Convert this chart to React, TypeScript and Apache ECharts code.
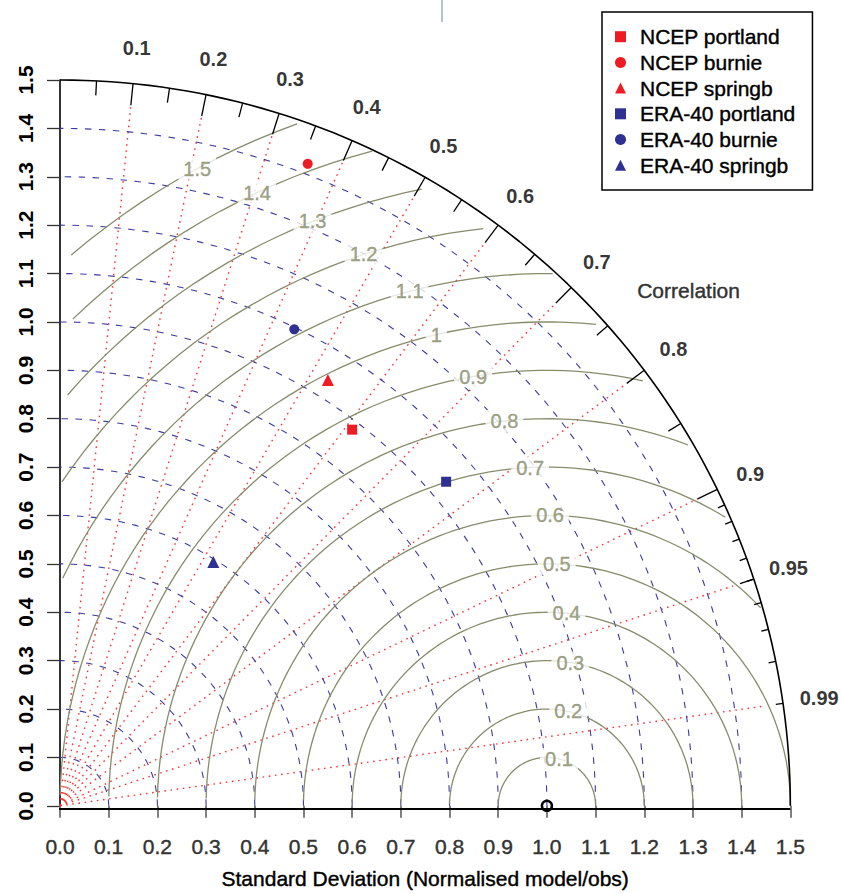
import React, { useEffect, useRef } from "react";
import * as echarts from "echarts";

// ---- Data ----
const MAXRAY = 1.5;
const SD_REF = 1.0;
const sdGridLevels = [0.1, 0.2, 0.3, 0.4, 0.5, 0.6, 0.7, 0.8, 0.9, 1.0, 1.1, 1.2, 1.3, 1.4];
const gammaLevels = [0.1, 0.2, 0.3, 0.4, 0.5, 0.6, 0.7, 0.8, 0.9, 1.0, 1.1, 1.2, 1.3, 1.4, 1.5];
const gammaLabels = ["0.1", "0.2", "0.3", "0.4", "0.5", "0.6", "0.7", "0.8", "0.9", "1", "1.1", "1.2", "1.3", "1.4", "1.5"];
const corLines = [0.1, 0.2, 0.3, 0.4, 0.5, 0.6, 0.7, 0.8, 0.9, 0.95, 0.99];
const corLabels = ["0.1", "0.2", "0.3", "0.4", "0.5", "0.6", "0.7", "0.8", "0.9", "0.95", "0.99"];
const bigTicks = [0.1, 0.2, 0.3, 0.4, 0.5, 0.6, 0.7, 0.8, 0.9];
const medTicks = [0.05, 0.15, 0.25, 0.35, 0.45, 0.55, 0.65, 0.75, 0.85, 0.95];
const smallTicks = [0.91, 0.92, 0.93, 0.94, 0.95, 0.96, 0.97, 0.98, 0.99];

const seriesNames = ["NCEP portland", "NCEP burnie", "NCEP springb", "ERA-40 portland", "ERA-40 burnie", "ERA-40 springb"];
const seriesSD = [0.982, 1.421, 1.038, 1.038, 1.096, 0.594];
const seriesCor = [0.611, 0.358, 0.530, 0.764, 0.439, 0.530];
const seriesSymbols = ["rect", "circle", "triangle", "rect", "circle", "triangle"];

const RED = "#ed1c24";
const BLUE = "#2e3192";
const seriesColors = [RED, RED, RED, BLUE, BLUE, BLUE];

const OLIVE = "#878c6b";
const FONT = "'Liberation Sans', Arial, Helvetica, sans-serif";

function quarterArc(r: number): number[][] {
  const pts: number[][] = [];
  for (let d = 0; d <= 90; d += 1) {
    const a = (d * Math.PI) / 180;
    pts.push([r * Math.cos(a), r * Math.sin(a)]);
  }
  return pts;
}

function gammaArc(g: number): number[][] {
  const xs: number[] = [];
  const ys: number[] = [];
  for (let k = 0; k < 105; k++) {
    const a = k * 0.03;
    xs.push(Math.cos(a) * g + SD_REF);
    ys.push(Math.sin(a) * g);
  }
  let start = 0;
  for (let k = 0; k < 105; k++) {
    if (xs[k] * xs[k] + ys[k] * ys[k] > MAXRAY * MAXRAY + 1e-12) start = k + 1;
  }
  let end = 104;
  for (let k = 0; k < 105; k++) {
    if (xs[k] < 0) {
      end = k - 1;
      break;
    }
  }
  const pts: number[][] = [];
  for (let k = start; k <= end; k++) pts.push([xs[k], ys[k]]);
  return pts;
}

export default function App() {
  const ref = useRef<HTMLDivElement>(null);

  useEffect(() => {
    if (!ref.current) return;
    const chart = echarts.init(ref.current, undefined, { renderer: "svg" });

    const series: any[] = [];

    // SD grid arcs (blue dashed)
    sdGridLevels.forEach((r) => {
      series.push({
        type: "line",
        data: quarterArc(r),
        showSymbol: false,
        symbol: "none",
        silent: true,
        z: 2,
        lineStyle: { color: "#3a3aa2", width: 1.1, type: [6.5, 7.5] },
      });
    });

    // correlation radial lines (red dotted)
    series.push({
      type: "custom",
      coordinateSystem: "cartesian2d",
      clip: false,
      silent: true,
      z: 2,
      data: corLines.map((c) => [c, 0.97]),
      renderItem: (params: any, api: any) => {
        const c = api.value(0);
        const f = api.value(1);
        const s = Math.sqrt(1 - c * c);
        const p1 = api.coord([0, 0]);
        const p2 = api.coord([f * MAXRAY * c, f * MAXRAY * s]);
        return {
          type: "line",
          shape: { x1: p1[0], y1: p1[1], x2: p2[0], y2: p2[1] },
          style: { stroke: "#ff3030", lineWidth: 1.4, lineDash: [1.6, 4.6] },
        };
      },
    });

    // gamma (RMS) arcs
    gammaLevels.forEach((g) => {
      series.push({
        type: "line",
        data: gammaArc(g),
        showSymbol: false,
        symbol: "none",
        silent: true,
        z: 2,
        lineStyle: { color: OLIVE, width: 1.3 },
      });
    });

    // outer arc
    series.push({
      type: "line",
      data: quarterArc(MAXRAY),
      showSymbol: false,
      symbol: "none",
      silent: true,
      clip: false,
      z: 3,
      lineStyle: { color: "#000", width: 1.6 },
    });

    // bottom axis line
    series.push({
      type: "line",
      data: [
        [-0.027, -0.0068],
        [1.5, -0.0068],
      ],
      showSymbol: false,
      symbol: "none",
      silent: true,
      clip: false,
      z: 3,
      lineStyle: { color: "#000", width: 2 },
    });

    // correlation ticks
    const tickData = [
      ...bigTicks.map((c) => [c, 0.97]),
      ...medTicks.map((c) => [c, 0.98]),
      ...smallTicks.map((c) => [c, 0.99]),
    ];
    series.push({
      type: "custom",
      coordinateSystem: "cartesian2d",
      clip: false,
      silent: true,
      z: 3,
      data: tickData,
      renderItem: (params: any, api: any) => {
        const c = api.value(0);
        const f = api.value(1);
        const s = Math.sqrt(1 - c * c);
        const p1 = api.coord([MAXRAY * c, MAXRAY * s]);
        const p2 = api.coord([f * MAXRAY * c, f * MAXRAY * s]);
        return {
          type: "line",
          shape: { x1: p1[0], y1: p1[1], x2: p2[0], y2: p2[1] },
          style: { stroke: "#000", lineWidth: 1.3 },
        };
      },
    });

    // gamma labels
    series.push({
      type: "scatter",
      symbolSize: 0,
      silent: true,
      clip: false,
      z: 4,
      data: gammaLevels.map((g, i) => {
        const k = Math.floor(45 + (i * 25) / 14 + 1e-9) - 1;
        const a = k * 0.03;
        return { value: [SD_REF + g * Math.cos(a), g * Math.sin(a)], name: gammaLabels[i] };
      }),
      label: {
        show: true,
        position: "inside",
        formatter: "{b}",
        color: OLIVE,
        fontSize: 20,
        fontFamily: FONT,
        textBorderColor: OLIVE,
        textBorderWidth: 0.4,
        backgroundColor: "#fff",
        padding: [1, 5],
      },
    });

    // correlation labels
    series.push({
      type: "scatter",
      symbolSize: 0,
      silent: true,
      clip: false,
      z: 4,
      data: corLines.map((c, i) => ({
        value: [1.05 * MAXRAY * c, 1.05 * MAXRAY * Math.sqrt(1 - c * c)],
        name: corLabels[i],
      })),
      label: {
        show: true,
        position: "inside",
        formatter: "{b}",
        color: "#000",
        fontSize: 20,
        fontWeight: "bold",
        fontFamily: FONT,
      },
    });

    // reference point
    series.push({
      type: "scatter",
      data: [[SD_REF, 0]],
      symbol: "circle",
      symbolSize: 10,
      silent: true,
      clip: false,
      z: 5,
      itemStyle: { color: "rgba(0,0,0,0)", borderColor: "#000", borderWidth: 2.5, opacity: 1 },
    });

    // data points
    seriesNames.forEach((name, i) => {
      const sd = seriesSD[i];
      const c = seriesCor[i];
      series.push({
        type: "scatter",
        name,
        data: [[sd * c, sd * Math.sqrt(1 - c * c)]],
        symbol: seriesSymbols[i],
        symbolSize: seriesSymbols[i] === "triangle" ? 12 : 10,
        clip: false,
        z: 6,
        itemStyle: { color: seriesColors[i], opacity: 1 },
      });
    });

    const option: any = {
      animation: false,
      backgroundColor: "#fff",
      textStyle: { fontFamily: FONT },
      grid: { left: 60, right: 50.65, top: 80, bottom: 84, containLabel: false },
      xAxis: {
        type: "value",
        min: 0,
        max: 1.5,
        interval: 0.1,
        offset: 7,
        axisLine: { show: false },
        axisTick: { show: true, length: 12, lineStyle: { color: "#555", width: 1.5 } },
        axisLabel: {
          margin: 23,
          fontSize: 21,
          color: "#333",
          fontFamily: FONT,
          textBorderColor: "#333",
          textBorderWidth: 0.4,
          formatter: (v: number) => v.toFixed(1),
        },
        splitLine: { show: false },
        name: "Standard Deviation (Normalised model/obs)",
        nameLocation: "middle",
        nameGap: 55,
        nameTextStyle: { fontSize: 21, color: "#000", fontFamily: FONT, textBorderColor: "#000", textBorderWidth: 0.4 },
      },
      yAxis: {
        type: "value",
        min: 0,
        max: 1.5,
        interval: 0.1,
        axisLine: { show: true, lineStyle: { color: "#000", width: 1.6 } },
        axisTick: { show: true, length: 13, lineStyle: { color: "#333", width: 1.3 } },
        axisLabel: {
          rotate: 90,
          margin: 24,
          fontSize: 21,
          fontWeight: "bold",
          color: "#000",
          fontFamily: FONT,
          formatter: (v: number) => v.toFixed(1),
        },
        splitLine: { show: false },
      },
      legend: {
        orient: "vertical",
        left: 602,
        top: 12,
        padding: [14, 17, 14, 13],
        borderColor: "#000",
        borderWidth: 1.5,
        itemWidth: 11,
        itemHeight: 11,
        itemGap: 4.3,
        selectedMode: false,
        textStyle: {
          fontSize: 21,
          color: "#000",
          fontFamily: FONT,
          lineHeight: 21,
          padding: [0, 0, 0, 9],
          textBorderColor: "#000",
          textBorderWidth: 0.4,
        },
        data: seriesNames.map((n, i) => ({ name: n, icon: seriesSymbols[i] })),
      },
      graphic: [
        {
          type: "text",
          left: 688 - 51,
          top: 292 - 12,
          style: {
            text: "Correlation",
            fontSize: 21,
            fill: "#333",
            fontFamily: FONT,
            stroke: "#333",
            lineWidth: 0.4,
          },
          silent: true,
        },
        {
          type: "line",
          shape: { x1: 442, y1: 0, x2: 442, y2: 22 },
          style: { stroke: "#7f9fbf", lineWidth: 1.2 },
          silent: true,
        },
      ],
      series,
    };

    chart.setOption(option);
    return () => chart.dispose();
  }, []);

  return (
    <div
      ref={ref}
      style={{ position: "fixed", left: 0, top: 0, width: 841, height: 894, background: "#fff" }}
    />
  );
}
